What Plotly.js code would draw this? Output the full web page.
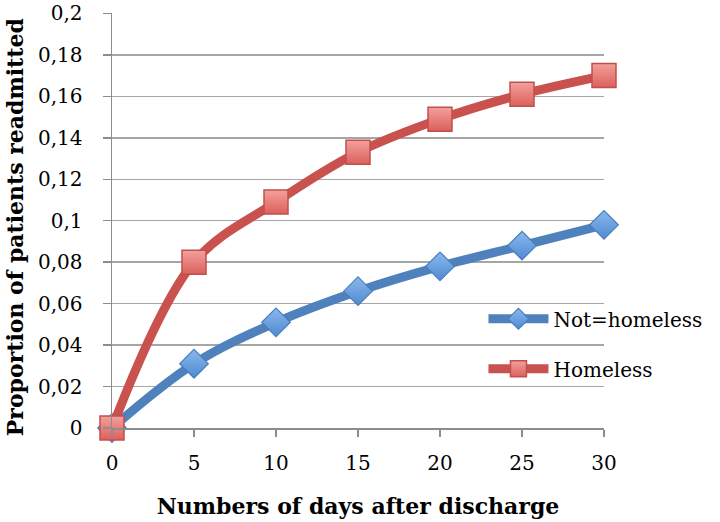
<!DOCTYPE html>
<html>
<head>
<meta charset="utf-8">
<script src="https://cdn.plot.ly/plotly-3.0.1.min.js"></script>
<style>html,body{margin:0;padding:0;background:#fff;}#chart{width:720px;height:522px;}</style>
</head>
<body>
<div id="chart"></div>
<script>
var days = [0, 5, 10, 15, 20, 25, 30];
var notHomeless = [0, 0.031, 0.051, 0.066, 0.078, 0.088, 0.098];
var homeless = [0, 0.080, 0.109, 0.133, 0.149, 0.161, 0.170];
var yTickVals = [0, 0.02, 0.04, 0.06, 0.08, 0.1, 0.12, 0.14, 0.16, 0.18, 0.2];
var yTickText = ["0", "0,02", "0,04", "0,06", "0,08", "0,1", "0,12", "0,14", "0,16", "0,18", "0,2"];
var xTickVals = [0, 5, 10, 15, 20, 25, 30];
var xTitle = "Numbers of days after discharge";
var yTitle = "Proportion of patients readmitted";

var serif = "DejaVu Serif, Liberation Serif, serif";

var traces = [
  {
    x: days, y: notHomeless, name: "Not=homeless", legendgroup: "a",
    type: "scatter", mode: "lines+markers", cliponaxis: false,
    line: {color: "#4f81bd", width: 9, shape: "spline", smoothing: 1},
    marker: {symbol: "diamond", size: 22, color: "#8ab8ee",
             gradient: {type: "vertical", color: "#4f8ad0"},
             line: {color: "#4a7ebb", width: 1.2}}
  },
  {
    x: days, y: homeless, name: "Homeless", legendgroup: "b",
    type: "scatter", mode: "lines+markers", cliponaxis: false,
    line: {color: "#c9524e", width: 9, shape: "spline", smoothing: 1},
    marker: {symbol: "square", size: 24, color: "#f3a09c",
             gradient: {type: "vertical", color: "#dc605b"},
             line: {color: "#c0504d", width: 1.5}}
  }
];

var layout = {
  width: 720, height: 522,
  margin: {l: 112, r: 116, t: 13, b: 94},
  paper_bgcolor: "#fff", plot_bgcolor: "#fff",
  font: {family: serif, size: 20, color: "#000"},
  showlegend: true,
  legend: {
    x: 0.755, xanchor: "left", y: 0.31, yanchor: "top",
    bgcolor: "rgba(0,0,0,0)", itemwidth: 60, tracegroupgap: 21,
    font: {family: serif, size: 20, color: "#000"}
  },
  xaxis: {
    range: [0, 30], tickvals: xTickVals, ticktext: xTickVals.map(String),
    showgrid: false, zeroline: false,
    showline: true, linecolor: "#8c8c8c", linewidth: 1.5,
    ticks: "outside", ticklen: 7, tickcolor: "#8c8c8c", tickwidth: 1.5,
    ticklabelstandoff: 9,
    tickfont: {family: serif, size: 20, color: "#000"},
    title: {text: xTitle, standoff: 25,
            font: {family: serif, size: 22, color: "#000", weight: "bold"}},
    fixedrange: true
  },
  yaxis: {
    range: [0, 0.2002], tickvals: yTickVals, ticktext: yTickText,
    ticklabeloverflow: "allow",
    showgrid: true, gridcolor: "#a6a6a6", gridwidth: 1.5, zeroline: false,
    showline: true, linecolor: "#8c8c8c", linewidth: 1.5,
    ticks: "outside", ticklen: 8, tickcolor: "#8c8c8c", tickwidth: 1.5,
    ticklabelstandoff: 16,
    tickfont: {family: serif, size: 20, color: "#000"},
    fixedrange: true
  },
  annotations: [{
    text: yTitle, textangle: -90, showarrow: false,
    xref: "paper", yref: "paper", x: -0.197, y: 0.484,
    xanchor: "center", yanchor: "middle",
    font: {family: serif, size: 22, color: "#000", weight: "bold"}
  }]
};

Plotly.newPlot("chart", traces, layout, {displayModeBar: false, staticPlot: true});
</script>
</body>
</html>
